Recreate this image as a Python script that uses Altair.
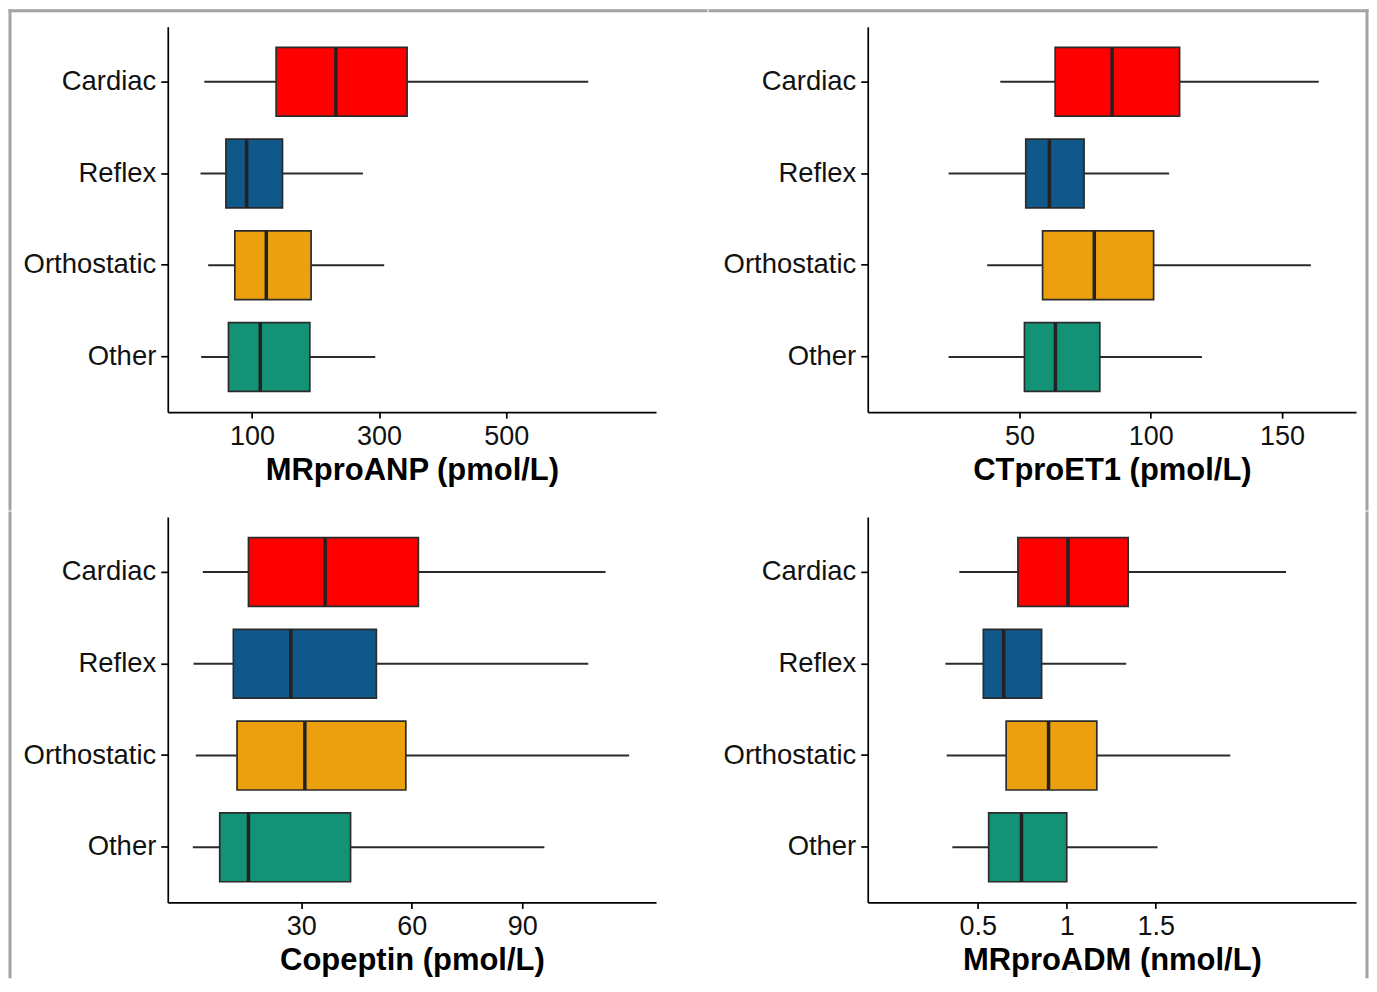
import altair as alt
import pandas as pd

groups = ["Cardiac", "Reflex", "Orthostatic", "Other"]
fill_colors = ["#FE0000", "#10588A", "#ECA00D", "#149276"]

# MRproANP (pmol/L)
anp_low = [25, 19, 31, 20]
anp_q1 = [138, 59, 73, 63]
anp_med = [232, 91.5, 122.5, 113]
anp_q3 = [344, 148, 193, 191]
anp_high = [629, 274.5, 308, 294]
anp_ticks = [100, 300, 500]

# CTproET1 (pmol/L)
et1_low = [42.7, 23, 37.7, 23]
et1_q1 = [63.6, 52.4, 58.8, 51.9]
et1_med = [85.3, 61.4, 78.5, 63.7]
et1_q3 = [111, 74.6, 101.1, 80.6]
et1_high = [164, 107, 161, 119.5]
et1_ticks = [50, 100, 150]

# Copeptin (pmol/L)
cop_low = [3.3, 0.8, 1.4, 0.6]
cop_q1 = [15.7, 11.6, 12.6, 7.9]
cop_med = [36.5, 27.2, 31, 15.7]
cop_q3 = [61.8, 50.4, 58.4, 43.4]
cop_high = [112.6, 107.9, 119, 96]
cop_ticks = [30, 60, 90]

# MRproADM (nmol/L)
adm_low = [0.397, 0.319, 0.326, 0.358]
adm_q1 = [0.726, 0.532, 0.66, 0.562]
adm_med = [1.007, 0.646, 0.898, 0.746]
adm_q3 = [1.345, 0.859, 1.169, 1.0]
adm_high = [2.231, 1.334, 1.918, 1.51]
adm_ticks = [0.5, 1, 1.5]

W, H = 489, 386
FONT = "Liberation Sans"
FRAME = "#a3a3a3"


def frame_bar(x1, x2, y1, y2, opacity=1):
    # decorative figure border (not data)
    return alt.Chart(alt.Data(values=[{}])).mark_rect(
        color=FRAME, opacity=opacity).encode(
        x=alt.value(x1), x2=alt.value(x2), y=alt.value(y1), y2=alt.value(y2))


def panel(title, low, q1, med, q3, high, domain, ticks, frame):
    df = pd.DataFrame({"group": groups, "low": low, "q1": q1, "med": med,
                       "q3": q3, "high": high})
    base = alt.Chart(df)
    yenc = alt.Y("group:N", sort=groups,
                 scale=alt.Scale(paddingInner=0.25, paddingOuter=0.225),
                 axis=alt.Axis(title=None, domainColor="black", domainWidth=1.7,
                               tickColor="black", tickWidth=1.7, tickSize=7,
                               labelFont=FONT, labelFontSize=27.5, labelColor="#111",
                               labelPadding=5))
    xscale = alt.Scale(domain=domain, nice=False, zero=False)
    xaxis = alt.Axis(values=ticks, title=title, labelExpr="'' + datum.value",
                     grid=False, domainColor="black", domainWidth=1.7,
                     tickColor="black", tickWidth=1.7, tickSize=6, labelFont=FONT,
                     labelFontSize=27, labelColor="#111", labelPadding=5,
                     titleFont=FONT, titleFontSize=31, titleFontWeight="bold",
                     titleColor="black", titlePadding=6)
    whisk = base.mark_rule(color="#2b2b2b", strokeWidth=2).encode(
        x=alt.X("low:Q", scale=xscale, axis=xaxis), x2="high:Q", y=yenc)
    box = base.mark_bar(stroke="#2b2b2b", strokeWidth=1.7).encode(
        x=alt.X("q1:Q", scale=xscale), x2="q3:Q", y=yenc,
        color=alt.Color("group:N", scale=alt.Scale(domain=groups, range=fill_colors),
                        legend=None))
    medl = base.mark_tick(orient="vertical", color="#222", thickness=3.5,
                          size=69, opacity=1).encode(
        x=alt.X("med:Q", scale=xscale), y=yenc)
    return alt.layer(whisk, box, medl, *frame).properties(width=W, height=H)


tl_frame = [
    frame_bar(-159.5, -156.5, -17.5, 484.5),
    frame_bar(-159.5, 540.5, -17.5, -14.5),
]
tr_frame = [
    frame_bar(-159.5, 501.5, -17.5, -14.5),
    frame_bar(498.5, 501.5, -17.5, 484.5),
]
bl_frame = [
    frame_bar(-159.5, -156.5, -5.5, 462),
    frame_bar(-159.5, 540.5, -5.5, -4.5, opacity=0),
]
br_frame = [
    frame_bar(498.5, 501.5, -5.5, 462),
    frame_bar(-159.5, 501.5, -5.5, -4.5, opacity=0),
]

tl = panel("MRproANP (pmol/L)", anp_low, anp_q1, anp_med, anp_q3, anp_high,
           [-32.5, 735.7], anp_ticks, tl_frame)
tr = panel("CTproET1 (pmol/L)", et1_low, et1_q1, et1_med, et1_q3, et1_high,
           [-7.8, 178.2], et1_ticks, tr_frame)
bl = panel("Copeptin (pmol/L)", cop_low, cop_q1, cop_med, cop_q3, cop_high,
           [-6.2, 126.3], cop_ticks, bl_frame)
br = panel("MRproADM (nmol/L)", adm_low, adm_q1, adm_med, adm_q3, adm_high,
           [-0.117, 2.624], adm_ticks, br_frame)

chart = alt.vconcat(
    alt.hconcat(tl, tr, spacing=0),
    alt.hconcat(bl, br, spacing=0),
    spacing=0,
).properties(
    padding=0, background="white"
).configure_view(stroke="transparent")

chart.save("out.html", embed_options={"renderer": "svg", "actions": False})
